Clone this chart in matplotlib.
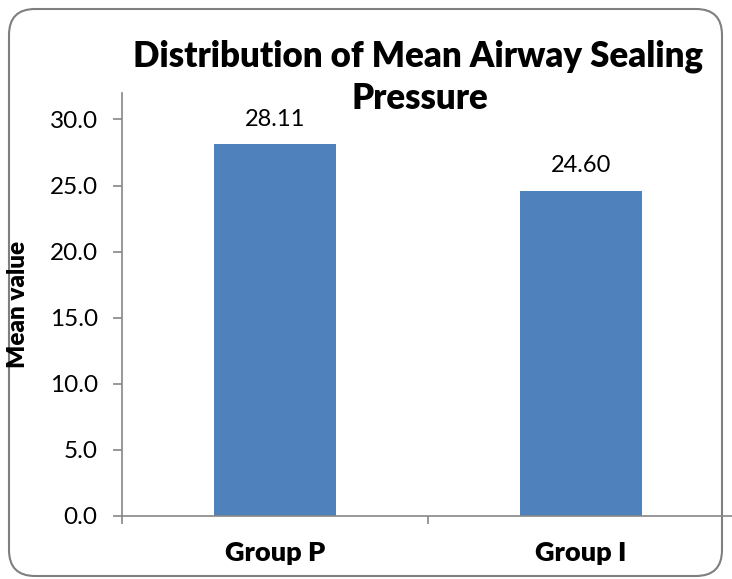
import matplotlib
matplotlib.use("Agg")
import matplotlib.pyplot as plt
from matplotlib.patches import FancyBboxPatch

groups = ["Group P", "Group I"]
means = [28.11, 24.60]
yticks = [0, 5, 10, 15, 20, 25, 30]
title_lines = ["Distribution of Mean Airway Sealing", "Pressure"]

plt.rcParams['font.family'] = ['Lato', 'DejaVu Sans']
gray = '#868686'

fig = plt.figure(figsize=(7.32, 5.79), dpi=100)

# rounded chart border
bg = fig.add_axes([0, 0, 1, 1], zorder=-1)
bg.set_xlim(0, 732)
bg.set_ylim(579, 0)
bg.axis('off')
bg.add_patch(FancyBboxPatch((9, 9), 713, 567, boxstyle="round,pad=0,rounding_size=26",
                            fill=False, edgecolor='#7f7f7f', linewidth=1.5))

ax = fig.add_axes([122/732, 1 - 516/579, 612/732, (516 - 93)/579])
ax.set_facecolor('none')
x = range(len(groups))
ax.bar(x, means, width=0.40, color='#4F81BD')
for i, v in enumerate(means):
    ax.annotate(f"{v:.2f}", (i, v), xytext=(0, 18), textcoords='offset points',
                ha='center', va='center', fontsize=17)

ax.set_xlim(-0.5, len(groups) - 0.5)
ax.set_ylim(0, 32)
ax.set_yticks(yticks)
ax.set_yticklabels([f"{t:.1f}" for t in yticks], fontsize=17.5)
ax.set_xticks(list(x))
ax.set_xticklabels(groups, fontsize=19.5, fontweight='heavy')
ax.set_xticks([-0.5, 0.5, 1.5], minor=True)
ax.tick_params(axis='x', which='major', length=0, pad=18)
ax.tick_params(axis='x', which='minor', length=6, color=gray, width=1.2)
ax.tick_params(axis='y', length=6.5, color=gray, width=1.2, pad=11)

for s in ['top', 'right']:
    ax.spines[s].set_visible(False)
for s in ['left', 'bottom']:
    ax.spines[s].set_color(gray)
    ax.spines[s].set_linewidth(1.2)

ax.set_ylabel("Mean value", fontsize=17.5, fontweight='heavy')
ax.yaxis.set_label_coords(-0.152, 0.5)

fig.text(418/732, 1 - 56/579, title_lines[0],
         ha='center', va='center', fontsize=25, fontweight='heavy')
fig.text(420/732, 1 - 99/579, title_lines[1],
         ha='center', va='center', fontsize=25, fontweight='heavy')

fig.savefig("out.png", dpi=100)
